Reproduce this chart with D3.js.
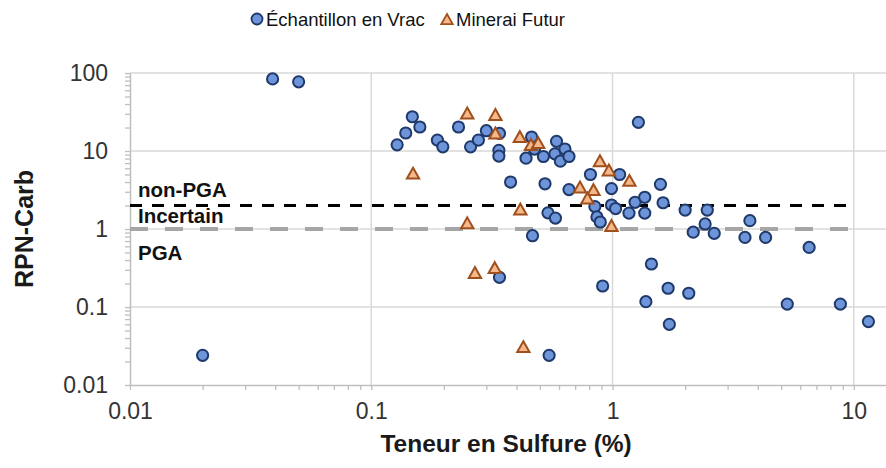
<!DOCTYPE html>
<html>
<head>
<meta charset="utf-8">
<script src="https://cdn.jsdelivr.net/npm/d3@7"></script>
<style>
  body { margin: 0; background: #fff; }
  svg { display: block; font-family: "Liberation Sans", Arial, sans-serif; }
</style>
</head>
<body>
<div id="chart"></div>
<script>
// values
var vracX = [0.039, 0.05, 0.02, 0.128, 0.139, 0.148, 0.159, 0.188, 0.198, 0.23,
             0.258, 0.278, 0.30, 0.34, 0.338, 0.338, 0.378, 0.462, 0.438, 0.475,
             0.517, 0.525, 0.586, 0.577, 0.635, 0.608, 0.66, 0.66, 0.81, 0.99,
             1.07, 1.28, 0.845, 0.862, 0.89, 0.99, 1.03, 1.17, 1.24, 1.36,
             1.36, 1.58, 1.62, 2.0, 2.47, 2.16, 2.42, 2.64, 3.71, 3.54,
             4.31, 6.53, 1.45, 0.91, 1.70, 2.07, 1.375, 5.3, 8.8, 11.5,
             1.72, 0.546, 0.34, 0.466, 0.54, 0.58];
var vracY = [84, 77, 0.024, 12, 17, 27.5, 20.3, 13.8, 11.3, 20.3,
             11.3, 13.8, 18.2, 16.8, 10.2, 8.6, 4.0, 15.1, 8.1, 10.6,
             8.5, 3.8, 13.3, 9.2, 10.6, 7.4, 8.5, 3.2, 5.0, 3.3,
             5.0, 23.3, 1.94, 1.43, 1.23, 2.03, 1.83, 1.6, 2.2, 2.55,
             1.6, 3.74, 2.17, 1.75, 1.75, 0.91, 1.16, 0.88, 1.28, 0.78,
             0.78, 0.58, 0.356, 0.186, 0.174, 0.15, 0.117, 0.109, 0.109, 0.065,
             0.06, 0.024, 0.24, 0.82, 1.61, 1.38];

var futurX = [0.149, 0.25, 0.327, 0.327, 0.413, 0.459, 0.492, 0.415, 0.25, 0.269,
              0.325, 0.427, 0.733, 0.834, 0.787, 0.887, 0.966, 1.175, 0.99];
var futurY = [5.2, 30.7, 29.4, 17, 15.3, 12.1, 12.8, 1.8, 1.2, 0.277,
              0.32, 0.031, 3.46, 3.2, 2.5, 7.5, 5.7, 4.2, 1.11];

var seriesNames = ["Échantillon en Vrac", "Minerai Futur"];
var xTicks = [0.01, 0.1, 1, 10];
var xTickLabels = ["0.01", "0.1", "1", "10"];
var yTicks = [0.01, 0.1, 1, 10, 100];
var yTickLabels = ["0.01", "0.1", "1", "10", "100"];

// limits between the zones
var limitX = [0.01, 10];
var limitNonPGA = 2;
var limitPGA = 1;
var zoneNames = ["non-PGA", "Incertain", "PGA"];

var margin = {top: 73, right: 0, bottom: 83, left: 130},
    width = 886 - margin.left - margin.right,
    height = 468 - margin.top - margin.bottom;

var svg = d3.select("#chart")
  .append("svg")
    .attr("width", width + margin.left + margin.right)
    .attr("height", height + margin.top + margin.bottom)
  .append("g")
    .attr("transform", "translate(" + margin.left + "," + margin.top + ")");

// the axis runs a bit past 10, cut by the picture edge
var x = d3.scaleLog().domain([0.01, 13.6]).range([0, width]);
var y = d3.scaleLog().domain([0.01, 100]).range([height, 0]);

var minorX = x.ticks().filter(function(d) { return xTicks.indexOf(d) < 0; });
var minorY = y.ticks().filter(function(d) { return yTicks.indexOf(d) < 0; });

// gridlines
svg.append("g")
  .selectAll("line")
  .data(xTicks.slice(1))
  .enter()
  .append("line")
    .attr("x1", function(d) { return x(d); })
    .attr("x2", function(d) { return x(d); })
    .attr("y1", 0)
    .attr("y2", height)
    .attr("stroke", "#d9d9d9")
    .attr("stroke-width", 1.5);

svg.append("g")
  .selectAll("line")
  .data(yTicks.slice(1))
  .enter()
  .append("line")
    .attr("x1", 0)
    .attr("x2", width)
    .attr("y1", function(d) { return y(d); })
    .attr("y2", function(d) { return y(d); })
    .attr("stroke", "#d9d9d9")
    .attr("stroke-width", 1.5);

// minor tick marks + axis lines
var xMinorAxis = svg.append("g")
  .attr("transform", "translate(0," + height + ")")
  .call(d3.axisBottom(x).tickValues(minorX.concat(xTicks)).tickSize(5).tickSizeOuter(0).tickFormat(""));
var yMinorAxis = svg.append("g")
  .call(d3.axisLeft(y).tickValues(minorY.concat(yTicks)).tickSize(5).tickSizeOuter(0).tickFormat(""));
[xMinorAxis, yMinorAxis].forEach(function(a) {
  a.selectAll("line").attr("stroke", "#bfbfbf").attr("stroke-width", 1.3);
  a.select(".domain").attr("stroke", "#bfbfbf").attr("stroke-width", 1.5);
});

// tick labels
var xLabelAxis = svg.append("g")
  .attr("transform", "translate(0," + height + ")")
  .call(d3.axisBottom(x).tickValues(xTicks).tickSize(0).tickPadding(18)
    .tickFormat(function(d, i) { return xTickLabels[i]; }));
var yLabelAxis = svg.append("g")
  .call(d3.axisLeft(y).tickValues(yTicks).tickSize(0).tickPadding(22)
    .tickFormat(function(d, i) { return yTickLabels[i]; }));
[xLabelAxis, yLabelAxis].forEach(function(a) {
  a.select(".domain").remove();
  a.selectAll("text")
    .style("font-family", "Liberation Sans, Arial, sans-serif")
    .style("font-size", "23px")
    .attr("fill", "#333");
});

// axis titles
svg.append("text")
  .attr("x", width * 0.4975)
  .attr("y", height + 67)
  .style("text-anchor", "middle")
  .style("font-size", "24.5px")
  .style("font-weight", "bold")
  .attr("fill", "#1a1a1a")
  .text("Teneur en Sulfure (%)");

svg.append("text")
  .attr("transform", "rotate(-90)")
  .attr("x", -height / 2)
  .attr("y", 33 - margin.left)
  .style("text-anchor", "middle")
  .style("font-size", "25px")
  .style("font-weight", "bold")
  .attr("fill", "#1a1a1a")
  .text("RPN-Carb");

// zone limits
var limitLine = d3.line()
  .x(function(d) { return x(d[0]); })
  .y(function(d) { return y(d[1]); });

svg.append("path")
  .datum(limitX.map(function(d) { return [d, limitPGA]; }))
  .attr("d", limitLine)
  .attr("fill", "none")
  .attr("stroke", "#a6a6a6")
  .attr("stroke-width", 4)
  .attr("stroke-dasharray", "18,17");

svg.append("path")
  .datum(limitX.map(function(d) { return [d, limitNonPGA]; }))
  .attr("d", limitLine)
  .attr("fill", "none")
  .attr("stroke", "#000")
  .attr("stroke-width", 3)
  .attr("stroke-dasharray", "12,10");

// zone names
var zoneY = [y(limitNonPGA) - 9, y(limitNonPGA) + 17, y(limitPGA) + 31];
zoneNames.forEach(function(name, i) {
  svg.append("text")
    .attr("x", 8)
    .attr("y", zoneY[i])
    .style("font-size", "20.5px")
    .style("font-weight", "bold")
    .attr("fill", "#111")
    .text(name);
});

// triangle marker centred on its box
var triangle = {
  draw: function(context, size) {
    var s = Math.sqrt(size);
    context.moveTo(0, -s * 0.46);
    context.lineTo(s * 0.52, s * 0.46);
    context.lineTo(-s * 0.52, s * 0.46);
    context.closePath();
  }
};

// points
svg.append("g")
  .selectAll("circle")
  .data(vracX)
  .enter()
  .append("circle")
    .attr("cx", function(d) { return x(d); })
    .attr("cy", function(d, i) { return y(vracY[i]); })
    .attr("r", 5.6)
    .attr("fill", "#6e94da")
    .attr("stroke", "#1f3a6a")
    .attr("stroke-width", 2);

svg.append("g")
  .selectAll("path")
  .data(futurX)
  .enter()
  .append("path")
    .attr("d", d3.symbol().type(triangle).size(140))
    .attr("transform", function(d, i) { return "translate(" + x(d) + "," + y(futurY[i]) + ")"; })
    .attr("fill", "#f5b88a")
    .attr("stroke", "#a0501e")
    .attr("stroke-width", 2);

// legend
var legend = d3.select("svg").append("g");

legend.append("circle")
  .attr("cx", 257)
  .attr("cy", 19)
  .attr("r", 5.5)
  .attr("fill", "#6e94da")
  .attr("stroke", "#1f3a6a")
  .attr("stroke-width", 1.8);
legend.append("text")
  .attr("x", 266)
  .attr("y", 26)
  .style("font-size", "18.5px")
  .attr("fill", "#111")
  .text(seriesNames[0]);

legend.append("path")
  .attr("d", d3.symbol().type(triangle).size(120))
  .attr("transform", "translate(447,19)")
  .attr("fill", "#f5b88a")
  .attr("stroke", "#a0501e")
  .attr("stroke-width", 1.8);
legend.append("text")
  .attr("x", 456)
  .attr("y", 26)
  .style("font-size", "18.5px")
  .attr("fill", "#111")
  .text(seriesNames[1]);
</script>
</body>
</html>
